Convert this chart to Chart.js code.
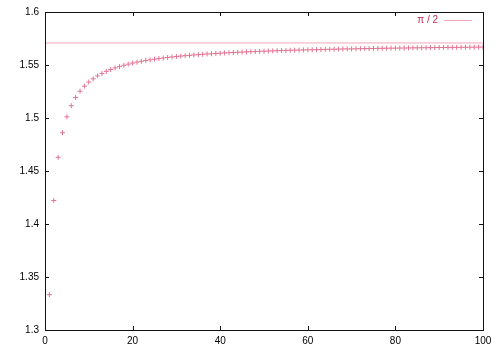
<!DOCTYPE html>
<html>
<head>
<meta charset="utf-8">
<script src="https://cdn.jsdelivr.net/npm/chart.js@4/dist/chart.umd.min.js"></script>
<style>
  html, body { margin: 0; padding: 0; background: #fff; }
  #wrap { width: 500px; height: 350px; }
</style>
</head>
<body>
<div id="wrap"><canvas id="grafico" width="500" height="350"></canvas></div>
<script>
// n = 1..100
const nValues = Array.from({ length: 100 }, (_, i) => i + 1);

// producto parcial
const partialValues = [
  1.3333, 1.4222, 1.4629, 1.4861, 1.5011, 1.5116, 1.5193, 1.5253, 1.5300, 1.5339,
  1.5370, 1.5397, 1.5420, 1.5440, 1.5457, 1.5472, 1.5485, 1.5497, 1.5508, 1.5518,
  1.5527, 1.5535, 1.5542, 1.5549, 1.5555, 1.5561, 1.5566, 1.5571, 1.5576, 1.5580,
  1.5584, 1.5588, 1.5591, 1.5595, 1.5598, 1.5601, 1.5604, 1.5606, 1.5609, 1.5611,
  1.5614, 1.5616, 1.5618, 1.5620, 1.5622, 1.5624, 1.5626, 1.5627, 1.5629, 1.5630,
  1.5632, 1.5633, 1.5635, 1.5636, 1.5637, 1.5639, 1.5640, 1.5641, 1.5642, 1.5643,
  1.5644, 1.5645, 1.5646, 1.5647, 1.5648, 1.5649, 1.5650, 1.5651, 1.5652, 1.5652,
  1.5653, 1.5654, 1.5655, 1.5655, 1.5656, 1.5657, 1.5657, 1.5658, 1.5659, 1.5659,
  1.5660, 1.5660, 1.5661, 1.5662, 1.5662, 1.5663, 1.5663, 1.5664, 1.5664, 1.5665,
  1.5665, 1.5666, 1.5666, 1.5666, 1.5667, 1.5667, 1.5668, 1.5668, 1.5669, 1.5669
];

// linea de referencia pi/2
const limitX = [0, 100];
const limitY = [1.5708, 1.5708];
const limitLabel = 'π / 2';

const xTicks = [0, 20, 40, 60, 80, 100];
const yTicks = [1.3, 1.35, 1.4, 1.45, 1.5, 1.55, 1.6];

const FONT = "'Liberation Sans', Arial, sans-serif";
const colorPuntos = '#e27493';
const colorLinea = '#f2a6b8';
const colorTexto = '#c42a52';

// Marco estilo gnuplot: caja completa + ticks hacia adentro en los 4 lados
const marcoPlugin = {
    id: 'marco',
    afterDraw(chart) {
        const { ctx, chartArea: a, scales } = chart;
        ctx.save();
        ctx.strokeStyle = '#111';
        ctx.lineWidth = 1;
        ctx.strokeRect(Math.round(a.left) + 0.5, Math.round(a.top) + 0.5,
            Math.round(a.right - a.left), Math.round(a.bottom - a.top));
        const len = 4;
        ctx.beginPath();
        xTicks.forEach(v => {
            const x = Math.round(scales.x.getPixelForValue(v)) + 0.5;
            ctx.moveTo(x, a.bottom); ctx.lineTo(x, a.bottom - len);
            ctx.moveTo(x, a.top); ctx.lineTo(x, a.top + len);
        });
        yTicks.forEach(v => {
            const y = Math.round(scales.y.getPixelForValue(v)) + 0.5;
            ctx.moveTo(a.left, y); ctx.lineTo(a.left + len, y);
            ctx.moveTo(a.right, y); ctx.lineTo(a.right - len, y);
        });
        ctx.stroke();

        // leyenda
        ctx.font = '10px ' + FONT;
        ctx.fillStyle = colorTexto;
        ctx.textAlign = 'right';
        ctx.textBaseline = 'middle';
        ctx.fillText(limitLabel, 438, 20);
        ctx.strokeStyle = colorLinea;
        ctx.beginPath();
        ctx.moveTo(444, 20.5); ctx.lineTo(472, 20.5);
        ctx.stroke();
        ctx.restore();
    }
};

const ctx = document.getElementById('grafico').getContext('2d');
new Chart(ctx, {
    type: 'scatter',
    data: {
        datasets: [
            {
                label: limitLabel,
                data: limitX.map((x, i) => ({ x: x, y: limitY[i] })),
                showLine: true,
                borderColor: colorLinea,
                borderWidth: 1,
                pointRadius: 0
            },
            {
                label: 'producto',
                data: nValues.map((n, i) => ({ x: n, y: partialValues[i] })),
                showLine: false,
                pointStyle: 'cross',
                pointRadius: 2.5,
                borderColor: colorPuntos,
                borderWidth: 1
            }
        ]
    },
    plugins: [marcoPlugin],
    options: {
        responsive: false,
        animation: false,
        layout: { padding: { top: 12, right: 17, left: 0, bottom: 0 } },
        plugins: {
            legend: { display: false },
            tooltip: { enabled: false }
        },
        scales: {
            x: {
                type: 'linear',
                min: 0, max: 100,
                afterFit: s => { s.height = 20; },
                afterBuildTicks: s => { s.ticks = xTicks.map(v => ({ value: v })); },
                grid: { display: false, drawTicks: false },
                border: { display: false },
                ticks: { color: '#000', font: { family: FONT, size: 10 }, padding: 5, maxRotation: 0 }
            },
            y: {
                min: 1.3, max: 1.6,
                afterFit: s => { s.width = 45; },
                afterBuildTicks: s => { s.ticks = yTicks.map(v => ({ value: v })); },
                grid: { display: false, drawTicks: false },
                border: { display: false },
                ticks: {
                    color: '#000', font: { family: FONT, size: 10 }, padding: 6,
                    callback: v => String(parseFloat(v.toFixed(2)))
                }
            }
        }
    }
});
</script>
</body>
</html>
